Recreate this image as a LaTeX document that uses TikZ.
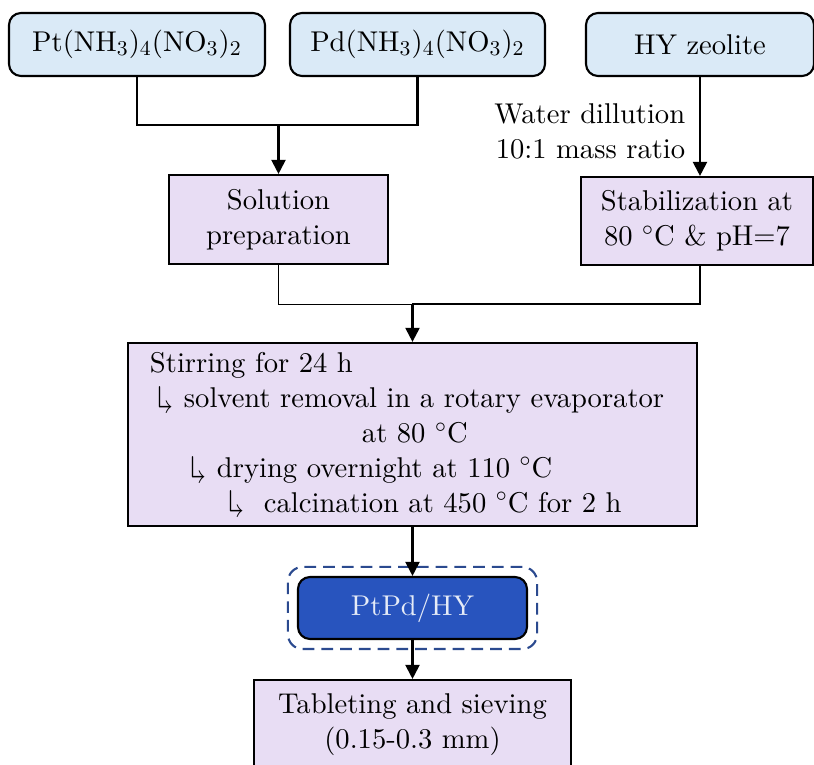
\documentclass[tikz,border=0pt,12pt]{standalone}
\usepackage{fontspec}
\usepackage{amssymb}
\setmainfont{lmroman10-regular.otf}
\usetikzlibrary{arrows.meta,fit,positioning}
\newcommand{\subarrow}{\raisebox{0.74em}{\scalebox{1.15}[-1.3]{$\Rsh$}}}
\definecolor{srcblue}{RGB}{218,234,247}
\definecolor{steppurple}{RGB}{232,221,244}
\definecolor{catblue}{RGB}{40,84,190}
\definecolor{framblue}{RGB}{43,74,143}
\tikzset{
	source/.style={draw, line width=0.9pt, fill=srcblue, rounded corners=0.18cm, minimum height=0.945cm, align=center},
	process/.style={draw, line width=0.9pt, fill=steppurple, align=center},
	product/.style={draw, line width=0.9pt, fill=catblue, text=white!88!catblue, rounded corners=0.18cm, minimum width=3.435cm, minimum height=0.93cm},
	arrow/.style={line width=0.9pt, -{Triangle[length=6pt,width=6pt]}},
	link/.style={line width=0.9pt}
}
\begin{document}
\begin{tikzpicture}[x=0.015cm,y=-0.015cm,font=\fontsize{12.2}{14.9}\selectfont]
	\useasboundingbox (0,0) rectangle (814,765);
	% starting materials
	\node (pt) [source, minimum width=3.84cm] at (137,44.5) {Pt(NH$_3$)$_4$(NO$_3$)$_2$};
	\node (pd) [source, minimum width=3.825cm] at (417.5,44.5) {Pd(NH$_3$)$_4$(NO$_3$)$_2$};
	\node (hy) [source, minimum width=3.42cm] at (700,44.5) {HY zeolite};
	% preparation steps
	\node (sol) [process, minimum width=3.285cm, minimum height=1.335cm] at (278.5,219.5) {Solution\\preparation};
	\node (stab) [process, minimum width=3.48cm, minimum height=1.32cm] at (697,221) {Stabilization at\\80 $^\circ$C \& pH=7};
	\node (water) [align=right, anchor=east] at (695,131) {Water dillution\\10:1 mass ratio};
	\node (stir) [process, align=left, text width=7.875cm, inner xsep=0.33cm, minimum height=2.745cm] at (412.5,434.5) {
		Stirring for 24 h\\
		\hspace*{0.12cm}\subarrow{} solvent removal in a rotary evaporator\\
		\hspace*{3.18cm}at 80 $^\circ$C\\
		\hspace*{0.615cm}\subarrow{} drying overnight at 110 $^\circ$C\\
		\hspace*{1.185cm}\subarrow{}\hspace{0.135cm} calcination at 450 $^\circ$C for 2 h
	};
	\node (ptpd) [product] at (412.5,608) {PtPd/HY};
	\node (frame) [fit=(ptpd), inner sep=0.135cm, draw=framblue, line width=0.9pt, dash pattern=on 5pt off 3pt, rounded corners=0.22cm] {};
	\node (tab) [process, minimum width=4.755cm, minimum height=1.335cm] at (412.5,724.5) {Tableting and sieving\\(0.15-0.3 mm)};
	% connectors
	\coordinate (mix) at (278.5,125);
	\coordinate (merge) at (412.5,304);
	\draw [link] (pt.south) |- (mix) -| (pd.south);
	\draw [arrow] (mix) -- (sol.north);
	\draw [arrow] (hy.south) -- (hy.south |- stab.north);
	\draw [line width=0.4pt] (sol.south) |- (merge);
	\draw [link] (stab.south -| hy.south) |- (merge);
	\draw [arrow] (merge) -- (stir.north);
	\draw [arrow] (stir.south) -- (ptpd.north);
	\draw [arrow] (ptpd.south) -- (tab.north);
\end{tikzpicture}
\end{document}
